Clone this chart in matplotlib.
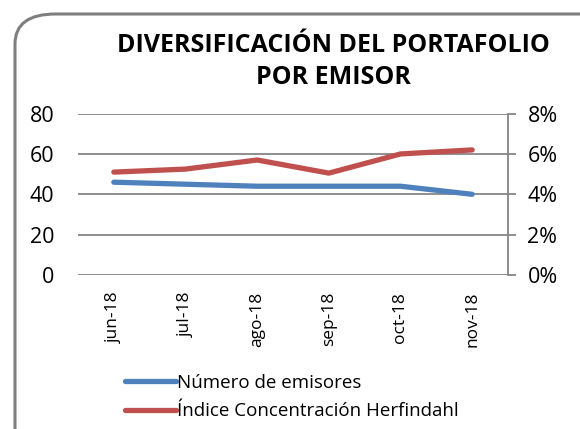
import matplotlib
matplotlib.use("Agg")
import matplotlib.pyplot as plt
from matplotlib.patches import FancyBboxPatch
from matplotlib.ticker import FuncFormatter

months = ["jun-18", "jul-18", "ago-18", "sep-18", "oct-18", "nov-18"]
num_emisores = [46, 45, 44, 44, 44, 40]
herfindahl = [0.051, 0.0525, 0.057, 0.0505, 0.060, 0.062]

blue = "#4F81BD"
red = "#C0504D"
grid_c = "#868686"

plt.rcParams["font.family"] = ["Open Sans", "DejaVu Sans"]

fig = plt.figure(figsize=(5.8, 4.29), dpi=100)
W, H = 580, 429

# rounded chart border
border = FancyBboxPatch((15 / W, -0.1), 1.2, 1 - 14 / H + 0.1,
                        boxstyle="round,pad=0,rounding_size=0.07",
                        transform=fig.transFigure, facecolor="none",
                        edgecolor="#7f7f7f", linewidth=2.2, clip_on=False)
fig.patches.append(border)

ax = fig.add_axes([78 / W, 1 - 275 / H, 430 / W, (275 - 113.6) / H])
ax2 = ax.twinx()

x = range(len(months))
ax.plot(x, num_emisores, color=blue, lw=3.8, solid_capstyle="round",
        label="Número de emisores")
ax2.plot(x, herfindahl, color=red, lw=3.8, solid_capstyle="round",
         label="Índice Concentración Herfindahl")

ax.set_xlim(-0.5, 5.5)
ax.set_ylim(0, 80)
ax.set_yticks([0, 20, 40, 60, 80])
ax2.set_ylim(0, 0.08)
ax2.set_yticks([0, 0.02, 0.04, 0.06, 0.08])
ax2.yaxis.set_major_formatter(FuncFormatter(lambda v, p: f"{v * 100:.0f}%"))

ax.grid(axis="y", color=grid_c, lw=1.3)
ax.set_axisbelow(True)
for a in (ax, ax2):
    for s in ("top", "left", "bottom", "right"):
        a.spines[s].set_visible(False)
ax2.spines["right"].set_visible(True)
ax2.spines["right"].set_color(grid_c)
ax2.spines["right"].set_linewidth(1.3)

ax.set_xticks(list(x))
ax.set_xticklabels(months, rotation=90, fontsize=12.5)
ax.tick_params(axis="x", length=0, pad=12)
ax.tick_params(axis="y", length=0, pad=17, labelsize=15.5)
ax2.tick_params(axis="y", length=6, color=grid_c, width=1.3, pad=8, labelsize=15.5)

fig.text(333 / W, 1 - 45 / H, "DIVERSIFICACIÓN DEL PORTAFOLIO", ha="center",
         va="center", fontsize=18, fontweight="bold")
fig.text(333 / W, 1 - 77 / H, "POR EMISOR", ha="center", va="center",
         fontsize=18, fontweight="bold")

h1, l1 = ax.get_legend_handles_labels()
h2, l2 = ax2.get_legend_handles_labels()
fig.legend(h1 + h2, l1 + l2, loc="upper left",
           bbox_to_anchor=(108 / W, 1 - 357 / H), frameon=False,
           fontsize=13.5, handlelength=2.7, handletextpad=0.1, labelspacing=0.55)

fig.savefig("out.png", dpi=100)
